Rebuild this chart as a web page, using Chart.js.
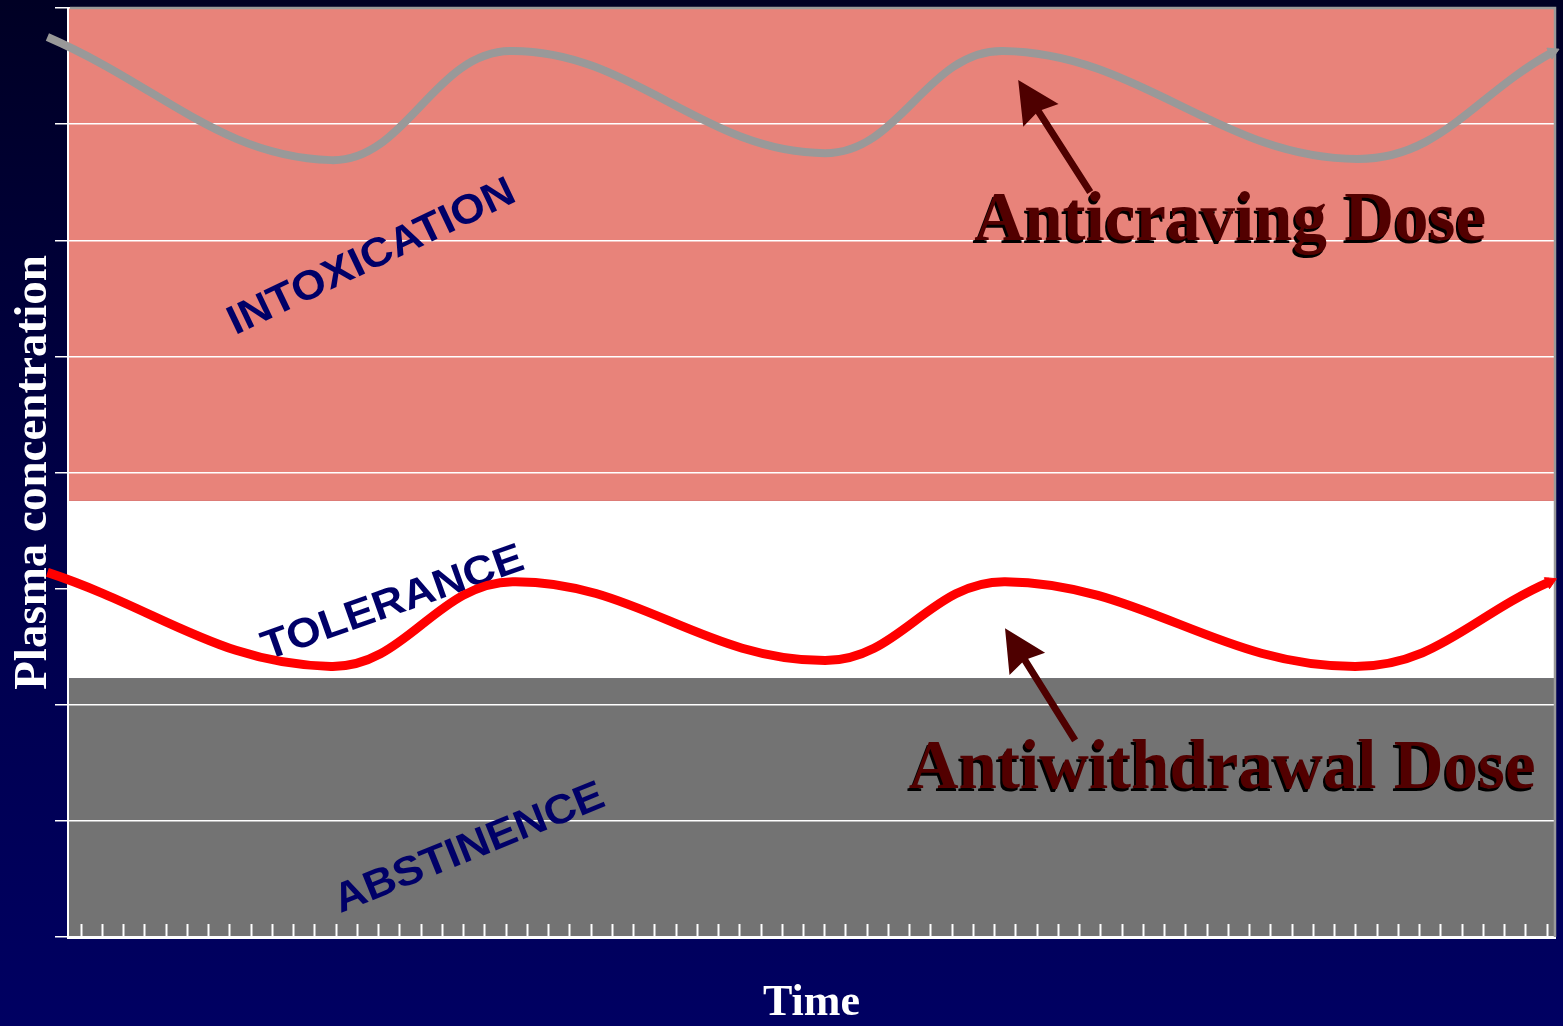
<!DOCTYPE html>
<html>
<head>
<meta charset="utf-8">
<script src="https://cdn.jsdelivr.net/npm/chart.js@4.4.1/dist/chart.umd.min.js"></script>
<style>
  html, body { margin: 0; padding: 0; }
  body {
    width: 1563px; height: 1026px; overflow: hidden;
    background: linear-gradient(to bottom, #000024 0%, #000048 50%, #000062 100%);
  }
  #wrap { position: relative; width: 1563px; height: 1026px; }
</style>
</head>
<body>
<div id="wrap"><canvas id="doseChart"></canvas></div>
<script>
// time runs in tick units, the plot spans -0.6 .. 69.4
const timeTicks = Array.from({ length: 70 }, (_, i) => i);

// turning points of each dose curve
const cravingTime  = [-1.57, 11.78, 20.21, 35.04, 43.4, 60.11, 69.29];
const cravingLevel = [7.75, 6.69, 7.63, 6.75, 7.63, 6.70, 7.62];

const withdrawalTime  = [-1.57, 11.78, 20.33, 35.04, 43.52, 59.99, 69.17];
const withdrawalLevel = [3.14, 2.33, 3.06, 2.38, 3.06, 2.33, 3.06];

const zoneNames = ['ABSTINENCE', 'TOLERANCE', 'INTOXICATION'];
const zoneFrom  = [0, 2.23, 3.755];
const zoneTo    = [2.23, 3.755, 8];

const doseNames = ['Anticraving Dose', 'Antiwithdrawal Dose'];

// placement of the written labels (in axis units) and styling
const zoneColors = ['#737373', '#ffffff', '#e8837a'];
const zoneSpots = [
    { x: 18.3,  y: 0.76, angle: -22 },
    { x: 14.7,  y: 2.87, angle: -19.5 },
    { x: 13.7,  y: 5.85, angle: -25.5 }
];
const doseSpots = [
    { x: 54.11, y: 6.0,  from: [47.52, 6.415], to: [44.13, 7.38] },
    { x: 53.73, y: 1.28, from: [46.81, 1.693], to: [43.51, 2.658] }
];

function toPoints(xs, ys) {
    return xs.map((x, i) => ({ x: x, y: ys[i] }));
}

function drawPointer(ctx, x1, y1, x2, y2) {
    const ang = Math.atan2(y2 - y1, x2 - x1);
    const len = Math.hypot(x2 - x1, y2 - y1);
    ctx.save();
    ctx.translate(x2, y2);
    ctx.rotate(ang);
    ctx.fillStyle = '#4e0000';
    ctx.beginPath();
    ctx.moveTo(0, 0);
    ctx.lineTo(-42, -21);
    ctx.lineTo(-38, -3.5);
    ctx.lineTo(-len, -3.5);
    ctx.lineTo(-len, 3.5);
    ctx.lineTo(-38, 3.5);
    ctx.lineTo(-42, 21);
    ctx.closePath();
    ctx.fill();
    ctx.restore();
}

const dosePlugin = {
    id: 'doseZones',
    beforeDraw(chart) {
        const { ctx, chartArea: a, scales: { y } } = chart;
        ctx.save();
        zoneNames.forEach((name, i) => {
            const top = y.getPixelForValue(zoneTo[i]);
            const bottom = y.getPixelForValue(zoneFrom[i]);
            ctx.fillStyle = zoneColors[i];
            ctx.fillRect(a.left, top, a.right - a.left, bottom - top);
        });
        ctx.restore();
    },
    beforeDatasetsDraw(chart) {
        const { ctx, chartArea: a, scales: { x, y } } = chart;
        ctx.save();
        // grey frame on top and right
        ctx.strokeStyle = '#9a9a9a';
        ctx.lineWidth = 2.5;
        ctx.beginPath();
        ctx.moveTo(a.left + 2, a.top);
        ctx.lineTo(a.right, a.top);
        ctx.lineTo(a.right, a.bottom);
        ctx.stroke();

        // inward tick marks along the time axis
        ctx.strokeStyle = '#ffffff';
        ctx.lineWidth = 2;
        x.ticks.forEach(t => {
            const px = Math.round(x.getPixelForValue(t.value)) + 0.5;
            ctx.beginPath();
            ctx.moveTo(px, a.bottom - 13);
            ctx.lineTo(px, a.bottom);
            ctx.stroke();
        });

        // zone names
        ctx.fillStyle = '#000068';
        ctx.font = 'bold 41px "Liberation Sans", Arial, sans-serif';
        ctx.textAlign = 'center';
        ctx.textBaseline = 'middle';
        zoneNames.forEach((name, i) => {
            const s = zoneSpots[i];
            ctx.save();
            ctx.translate(x.getPixelForValue(s.x), y.getPixelForValue(s.y));
            ctx.rotate(s.angle * Math.PI / 180);
            ctx.scale(1.08, 1);
            ctx.fillText(name, 0, 0);
            ctx.restore();
        });
        ctx.restore();
    },
    afterDatasetsDraw(chart) {
        const { ctx, scales: { x, y } } = chart;
        ctx.save();
        doseNames.forEach((name, i) => {
            const s = doseSpots[i];
            drawPointer(ctx,
                x.getPixelForValue(s.from[0]), y.getPixelForValue(s.from[1]),
                x.getPixelForValue(s.to[0]), y.getPixelForValue(s.to[1]));
            const px = x.getPixelForValue(s.x);
            const py = y.getPixelForValue(s.y);
            ctx.font = 'bold 69px "Liberation Serif", "Times New Roman", serif';
            ctx.textAlign = 'center';
            ctx.textBaseline = 'alphabetic';
            ctx.fillStyle = '#000000';
            ctx.fillText(name, px - 2, py + 3);
            ctx.fillStyle = '#520000';
            ctx.fillText(name, px, py);
        });
        ctx.restore();
    }
};

function endArrow(color) {
    return {
        pointRadius: ctx => ctx.dataIndex === ctx.dataset.data.length - 1 ? 7 : 0,
        pointStyle: 'triangle',
        pointRotation: 65,
        pointBackgroundColor: color,
        pointBorderColor: color,
        pointBorderWidth: 1,
        pointHoverRadius: 0
    };
}

new Chart(document.getElementById('doseChart'), {
    type: 'line',
    data: {
        datasets: [
            Object.assign({
                label: doseNames[0],
                data: toPoints(cravingTime, cravingLevel),
                borderColor: '#999999',
                borderWidth: 8,
                tension: 0.4,
                capBezierPoints: false,
                clip: false
            }, endArrow('#999999')),
            Object.assign({
                label: doseNames[1],
                data: toPoints(withdrawalTime, withdrawalLevel),
                borderColor: '#ff0000',
                borderWidth: 9,
                tension: 0.4,
                capBezierPoints: false,
                clip: false
            }, endArrow('#ff0000'))
        ]
    },
    options: {
        responsive: true,
        maintainAspectRatio: false,
        animation: false,
        devicePixelRatio: 1,
        layout: { padding: { top: 8, right: 8, bottom: 0, left: 0 } },
        plugins: {
            legend: { display: false },
            tooltip: { enabled: false }
        },
        scales: {
            x: {
                type: 'linear',
                min: -0.6,
                max: 69.4,
                afterBuildTicks: scale => { scale.ticks = timeTicks.map(v => ({ value: v })); },
                ticks: { display: false },
                grid: { display: false, drawTicks: false },
                border: { display: true, color: '#ffffff', width: 3 },
                title: {
                    display: true,
                    text: 'Time',
                    color: '#ffffff',
                    font: { family: '"Liberation Serif", "Times New Roman", serif', size: 44, weight: 'bold', lineHeight: 1 },
                    padding: { top: 45, bottom: 0 }
                }
            },
            y: {
                min: 0,
                max: 8,
                ticks: { display: false, stepSize: 1 },
                grid: { color: '#ffffff', lineWidth: 1.5, drawTicks: true, tickLength: 13, tickColor: '#ffffff' },
                border: { color: '#ffffff', width: 2 },
                title: {
                    display: true,
                    text: 'Plasma concentration',
                    color: '#ffffff',
                    font: { family: '"Liberation Serif", "Times New Roman", serif', size: 47, weight: 'bold', lineHeight: 1 },
                    padding: { top: 10, bottom: -2 }
                }
            }
        }
    },
    plugins: [dosePlugin]
});
</script>
</body>
</html>
